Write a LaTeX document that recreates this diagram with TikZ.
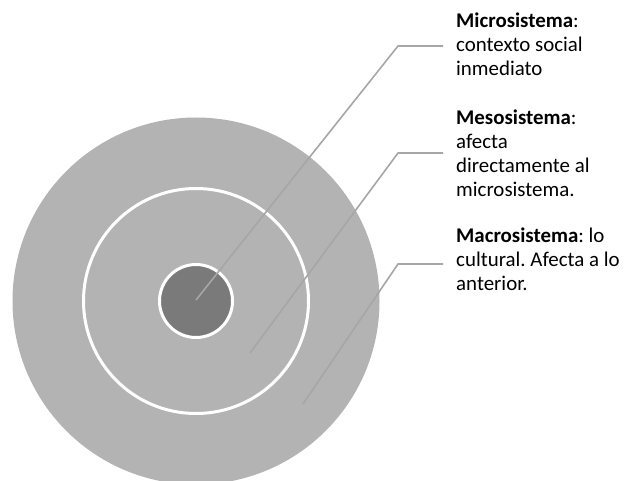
\documentclass[tikz,border=0pt]{standalone}
\usepackage{fontspec}
\setmainfont{Carlito}
\frenchspacing
\definecolor{ringgray}{RGB}{179,179,179}
\definecolor{coregray}{RGB}{122,122,122}
\definecolor{leadgray}{RGB}{166,166,166}
\newcommand{\lbltext}[1]{\begin{tabular}[t]{@{}l@{}}#1\end{tabular}}
\begin{document}
\begin{tikzpicture}[x=1pt,y=-1pt,
  ring/.style={circle,inner sep=0pt,minimum size=#1},
  leader/.style={draw=leadgray,line width=1.6pt,line join=round},
  label/.style={anchor=base west,inner sep=0pt,
    font=\fontsize{20.9}{24}\selectfont\frenchspacing,text=black}]
\useasboundingbox (0,0) rectangle (626,481);
\clip (0,0) rectangle (626,481);
\node[ring=367pt,fill=ringgray] (outer) at (196,301) {};
\node[ring=225pt,draw=white,line width=3pt] (middle) at (196,301) {};
\node[ring=73pt,fill=coregray,draw=white,line width=3pt] (inner) at (196,301) {};
% labels
\node[label] (micro) at (456,28) {\lbltext{\textbf{Microsistema}:\\contexto social\\inmediato}};
\node[label] (meso) at (456,125) {\lbltext{\textbf{Mesosistema}:\\afecta\\directamente al\\microsistema.}};
\node[label] (macro) at (456,242) {\lbltext{\textbf{Macrosistema}: lo\\cultural. Afecta a lo\\anterior.}};
% leader points
\coordinate (p1) at (196,300);
\coordinate (b1) at (398,46);
\coordinate (e1) at (443,46);
\coordinate (p2) at (250,353);
\coordinate (b2) at (398,153);
\coordinate (e2) at (443,153);
\coordinate (p3) at (303,404);
\coordinate (b3) at (398,264);
\coordinate (e3) at (443,264);
\draw[leader] (p1) -- (b1) -- (e1);
\draw[leader] (p2) -- (b2) -- (e2);
\draw[leader] (p3) -- (b3) -- (e3);
\end{tikzpicture}
\end{document}
